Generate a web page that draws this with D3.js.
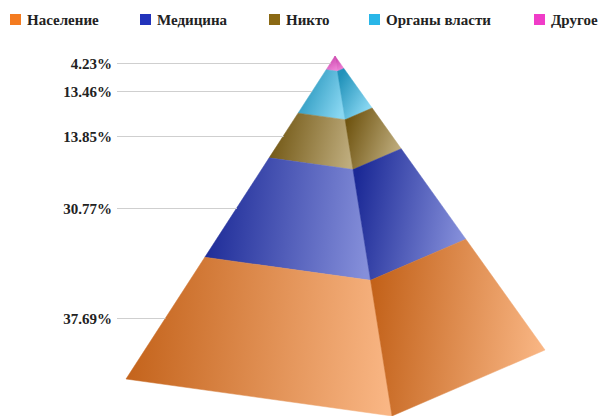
<!DOCTYPE html>
<html>
<head>
<meta charset="utf-8">
<script src="https://cdn.jsdelivr.net/npm/d3@7"></script>
<style>
  html, body { margin: 0; padding: 0; background: #fff; }
  svg { display: block; }
  text { font-family: "Liberation Serif", "Times New Roman", serif; font-weight: bold; fill: #222; }
</style>
</head>
<body>
<svg id="chart" width="602" height="416"></svg>
<script>
// ---- data (bottom layer first) ----
const categories = ["Население", "Медицина", "Никто", "Органы власти", "Другое"];
const values = [37.69, 30.77, 13.85, 13.46, 4.23];
const colors = ["#f47b20", "#2233bb", "#8b6914", "#29b6e8", "#f03cc8"];
const valueLabels = ["37.69%", "30.77%", "13.85%", "13.46%", "4.23%"];

// ---- layout ----
const apex = [335, 56];
const cornerLeft = [126, 379];
const cornerFront = [392, 416];
const cornerRight = [545, 350];
const labelX = 112, gridX0 = 117;

const svg = d3.select("#chart");
const defs = svg.append("defs");

const total = d3.sum(values);
// fraction-from-apex scales along each visible edge (copy results: d3 reuses arrays)
const edge = c => {
  const sx = d3.scaleLinear().domain([0, total]).range([apex[0], c[0]]);
  const sy = d3.scaleLinear().domain([0, total]).range([apex[1], c[1]]);
  return v => [sx(v), sy(v)];
};
const leftEdge = edge(cornerLeft), frontEdge = edge(cornerFront), rightEdge = edge(cornerRight);

// build segments top->bottom by cumulative value from apex
const order = d3.range(values.length).reverse(); // top first
let cum = 0;
const segs = order.map(i => {
  const s = { i, top: cum, bottom: cum + values[i] };
  cum += values[i];
  return s;
});

const line = d3.line();

segs.forEach(s => {
  const base = d3.color(colors[s.i]);
  const dark = d3.interpolateRgb(base, "#000")(0.2);
  const light = d3.interpolateRgb(base, "#fff")(0.45);
  ["L", "R"].forEach(face => {
    const id = `g${s.i}${face}`;
    const e1 = face === "L" ? leftEdge : frontEdge;
    const e2 = face === "L" ? frontEdge : rightEdge;
    const pts = [e1(s.top), e2(s.top), e2(s.bottom), e1(s.bottom)];
    const xs = pts.map(p => p[0]), ys = pts.map(p => p[1]);
    const g = defs.append("linearGradient").attr("id", id)
      .attr("gradientUnits", "userSpaceOnUse")
      .attr("x1", d3.min(xs)).attr("y1", d3.mean(ys) - 10)
      .attr("x2", d3.max(xs)).attr("y2", d3.mean(ys) + 10);
    g.append("stop").attr("offset", "0%").attr("stop-color", dark);
    g.append("stop").attr("offset", "100%").attr("stop-color", light);
    svg.append("path")
      .attr("d", line(pts) + "Z")
      .attr("fill", `url(#${id})`)
      .attr("stroke", `url(#${id})`)
      .attr("stroke-width", 0.5);
  });
});

// labels + leader lines
segs.forEach(s => {
  const mid = (s.top + s.bottom) / 2;
  const p = leftEdge(mid);
  const y = Math.round(p[1]) + 0.5;
  svg.append("line")
    .attr("x1", gridX0).attr("x2", p[0]).attr("y1", y).attr("y2", y)
    .attr("stroke", "#cfcfcf").attr("stroke-width", 1);
  svg.append("text")
    .attr("x", labelX).attr("y", y)
    .attr("dy", "0.35em")
    .attr("text-anchor", "end")
    .attr("font-size", 15)
    .text(valueLabels[s.i]);
});

// legend
const legendX = [10, 140, 269, 369, 534];
const lg = svg.append("g");
categories.forEach((c, i) => {
  lg.append("rect").attr("x", legendX[i]).attr("y", 14).attr("width", 11).attr("height", 11)
    .attr("fill", colors[i]);
  lg.append("text").attr("x", legendX[i] + 17).attr("y", 24.5)
    .attr("font-size", 15).text(c);
});
</script>
</body>
</html>
